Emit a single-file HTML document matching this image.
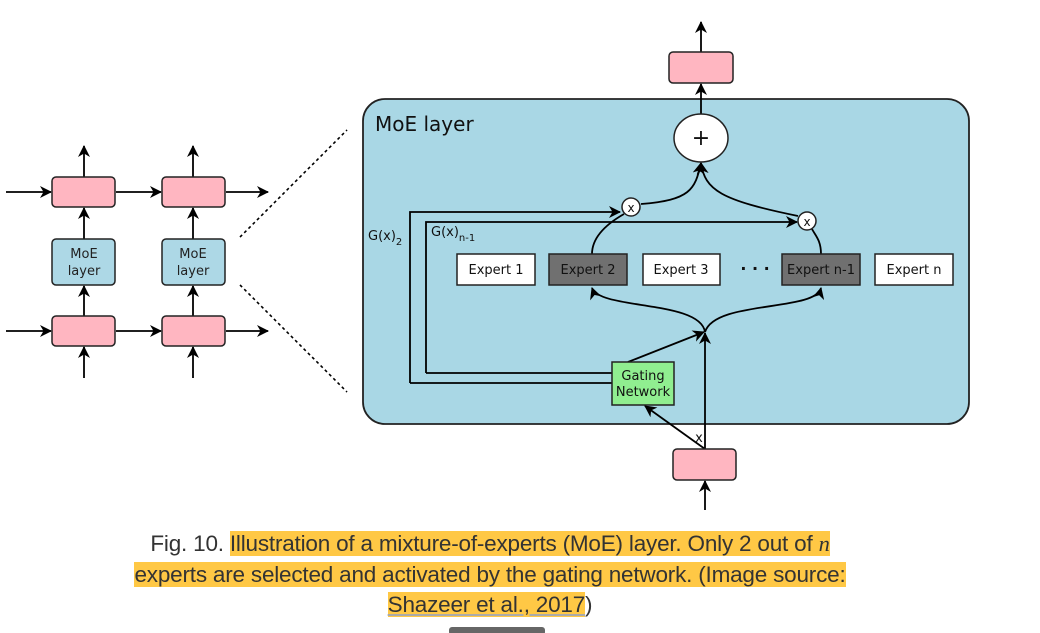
<!DOCTYPE html>
<html><head><style>
body{margin:0;width:1040px;height:633px;background:#fff;overflow:hidden;position:relative;font-family:"DejaVu Sans","Liberation Sans",sans-serif}
.cap{position:absolute;left:0;width:980px;text-align:center;font-family:"Liberation Sans",sans-serif;font-size:22.5px;color:#333;line-height:30.5px;top:529px;letter-spacing:-0.2px}
.hl{background:#ffc845}
</style></head><body>
<svg width="1040" height="633" style="position:absolute;left:0;top:0">
<defs><marker id="a" markerWidth="12" markerHeight="12" refX="11" refY="6" orient="auto" markerUnits="userSpaceOnUse"><path d="M0,0 L12,6 L0,12 L3.5,6z" fill="#000"/></marker></defs>
<g stroke="#000" stroke-width="1.8" fill="none">
<line x1="6" y1="192" x2="51" y2="192" marker-end="url(#a)"/>
<line x1="116" y1="192" x2="161" y2="192" marker-end="url(#a)"/>
<line x1="226" y1="192" x2="268" y2="192" marker-end="url(#a)"/>
<line x1="6" y1="331" x2="51" y2="331" marker-end="url(#a)"/>
<line x1="116" y1="331" x2="161" y2="331" marker-end="url(#a)"/>
<line x1="226" y1="331" x2="268" y2="331" marker-end="url(#a)"/>
<line x1="84" y1="177" x2="84" y2="146" marker-end="url(#a)"/>
<line x1="193" y1="177" x2="193" y2="146" marker-end="url(#a)"/>
<line x1="84" y1="239" x2="84" y2="208" marker-end="url(#a)"/>
<line x1="193" y1="239" x2="193" y2="208" marker-end="url(#a)"/>
<line x1="84" y1="316" x2="84" y2="286" marker-end="url(#a)"/>
<line x1="193" y1="316" x2="193" y2="286" marker-end="url(#a)"/>
<line x1="84" y1="378" x2="84" y2="347" marker-end="url(#a)"/>
<line x1="193" y1="378" x2="193" y2="347" marker-end="url(#a)"/>
</g>
<g stroke="#222" stroke-width="1.5">
<rect x="52" y="177" width="63" height="30" rx="4" fill="#ffb6c1"/>
<rect x="162" y="177" width="63" height="30" rx="4" fill="#ffb6c1"/>
<rect x="52" y="316" width="63" height="30" rx="4" fill="#ffb6c1"/>
<rect x="162" y="316" width="63" height="30" rx="4" fill="#ffb6c1"/>
<rect x="52" y="239" width="63" height="46" rx="4" fill="#add8e6"/>
<rect x="162" y="239" width="63" height="46" rx="4" fill="#add8e6"/>
</g>
<g font-size="13" fill="#222" text-anchor="middle">
<text x="84" y="258">MoE</text><text x="84" y="275">layer</text>
<text x="193" y="258">MoE</text><text x="193" y="275">layer</text>
</g>
<g stroke="#000" stroke-width="1.6" stroke-dasharray="3,3">
<line x1="240" y1="237" x2="347" y2="130"/>
<line x1="240" y1="285" x2="347" y2="392"/>
</g>
<rect x="363" y="99" width="606" height="325" rx="22" fill="#a9d7e5" stroke="#222" stroke-width="1.8"/>
<text x="375" y="131" font-size="20" fill="#111">MoE layer</text>
<g stroke="#000" stroke-width="1.8" fill="none">
<line x1="701" y1="52" x2="701" y2="22" marker-end="url(#a)"/>
<line x1="701" y1="114" x2="701" y2="84" marker-end="url(#a)"/>
<path d="M641,204 C690,200 695,190 701,163" marker-end="url(#a)"/>
<path d="M798,216 C720,200 705,190 701,163" marker-end="url(#a)"/>
<path d="M592,254 C592,235 610,222 624,214"/>
<path d="M821,254 C821,240 815,235 812,229"/>
<path d="M410,383 L410,212 L620,212" marker-end="url(#a)"/>
<path d="M426,373 L426,222 L797,222" marker-end="url(#a)"/>
<line x1="612" y1="383" x2="410" y2="383"/>
<line x1="612" y1="373" x2="426" y2="373"/>
<path d="M705,332 C700,300 600,310 592,288" marker-end="url(#a)"/>
<path d="M705,332 C715,300 815,312 821,288" marker-end="url(#a)"/>
<line x1="705" y1="449" x2="705" y2="333" marker-end="url(#a)"/>
<line x1="628" y1="362" x2="704" y2="332" marker-end="url(#a)"/>
<line x1="705" y1="449" x2="645" y2="406" marker-end="url(#a)"/>
<line x1="705" y1="510" x2="705" y2="481" marker-end="url(#a)"/>
</g>
<g stroke="#222" stroke-width="1.5">
<rect x="669" y="52" width="64" height="31" rx="4" fill="#ffb6c1"/>
<rect x="673" y="449" width="63" height="31" rx="4" fill="#ffb6c1"/>
<ellipse cx="701" cy="138" rx="27" ry="24" fill="#fff"/>
<circle cx="631" cy="207" r="9" fill="#fff"/>
<circle cx="807" cy="221" r="9" fill="#fff"/>
<rect x="457" y="254" width="78" height="31" fill="#fff"/>
<rect x="549" y="254" width="78" height="31" fill="#707070"/>
<rect x="643" y="254" width="77" height="31" fill="#fff"/>
<rect x="782" y="254" width="78" height="31" fill="#707070"/>
<rect x="875" y="254" width="78" height="31" fill="#fff"/>
<rect x="612" y="362" width="62" height="43" fill="#90ee90"/>
</g>
<g font-size="13" fill="#111" text-anchor="middle">
<text x="701" y="145" font-size="22">+</text>
<text x="631" y="212" font-size="12">x</text>
<text x="807" y="226" font-size="12">x</text>
<text x="496" y="274">Expert 1</text>
<text x="588" y="274">Expert 2</text>
<text x="681" y="274">Expert 3</text>
<text x="755" y="274" font-size="16" font-weight="bold">· · ·</text>
<text x="821" y="274">Expert n-1</text>
<text x="914" y="274">Expert n</text>
<text x="643" y="380">Gating</text>
<text x="643" y="396">Network</text>
<text x="699" y="442">x</text>
</g>
<text x="368" y="240" font-size="13" fill="#111">G(x)<tspan font-size="10" dy="5">2</tspan></text>
<text x="431" y="236" font-size="13" fill="#111">G(x)<tspan font-size="10" dy="5">n-1</tspan></text>
<rect x="449" y="627" width="96" height="8" rx="3" fill="#666"/>
</svg>
<div class="cap">Fig. 10. <span class="hl">Illustration of a mixture-of-experts (MoE) layer. Only 2 out of <i style="font-family:'Liberation Serif',serif">n</i></span><br><span class="hl">experts are selected and activated by the gating network. (Image source:</span><br><span class="hl" style="text-decoration:underline;text-decoration-color:#aaa">Shazeer et al., 2017</span>)</div>
</body></html>
